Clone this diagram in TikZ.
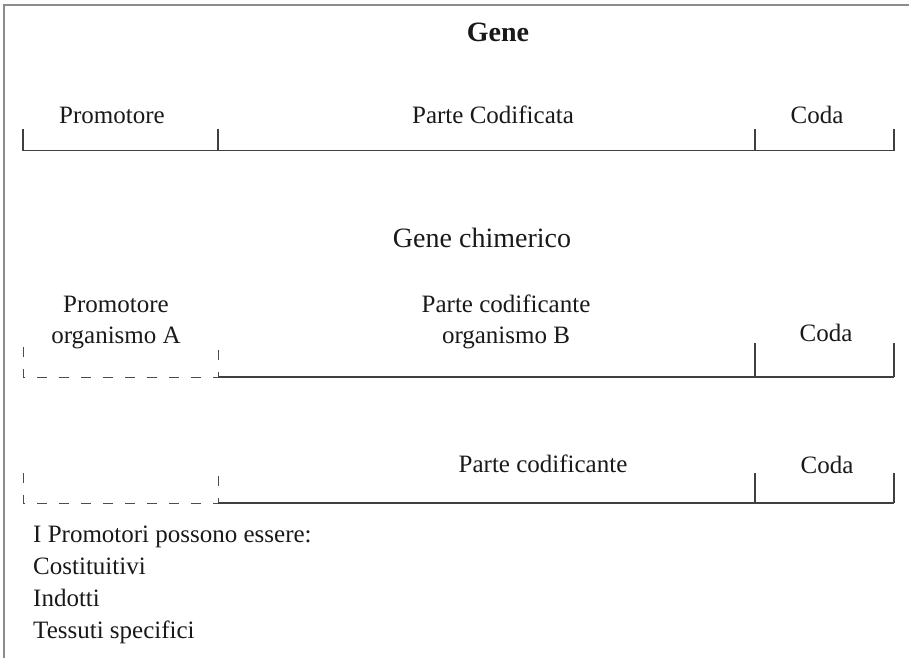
\documentclass[tikz,border=0pt]{standalone}
\usepackage{fontspec}
\setmainfont{Liberation Serif}

\begin{document}
\begin{tikzpicture}[x=1pt, y=-1pt]
	%define styles
	\tikzset{
		frame/.style={draw=black!45, line width=2pt},
		segment/.style={draw=black!75, line width=1.3pt},
		missing/.style={draw=black!70, line width=1pt, dash pattern=on 10pt off 12pt},
		label/.style={font=\fontsize{25}{31}\selectfont, text=black!90, anchor=base, inner sep=0pt, align=center},
		title/.style={label, font=\fontsize{28}{34}\selectfont},
	}
	\useasboundingbox (0,0) rectangle (909,658);
	%frame
	\draw[frame] (4,658) -- (4,5) -- (909,5);
	%define points
	\coordinate (a0) at (23,150.5);
	\coordinate (a1) at (218,150.5);
	\coordinate (a2) at (755,150.5);
	\coordinate (a3) at (894,150.5);
	\coordinate (b0) at (23,377);
	\coordinate (b1) at (218,377);
	\coordinate (b2) at (755,377);
	\coordinate (b3) at (894,377);
	\coordinate (c0) at (23,503);
	\coordinate (c1) at (218,503);
	\coordinate (c2) at (755,503);
	\coordinate (c3) at (894,503);
	%define nodes
	\node[title, font=\fontsize{28}{34}\selectfont\bfseries] (gene) at (498,42) {Gene};
	\node[label] (prom) at (112,123) {Promotore};
	\node[label] (cod) at (493,123) {Parte Codificata};
	\node[label] (coda) at (817,123) {Coda};
	\node[title] (chim) at (482,247) {Gene chimerico};
	\node[label] (promA) at (116,343) {Promotore\\organismo A};
	\node[label] (codB) at (506,343) {Parte codificante\\organismo B};
	\node[label] (codaB) at (826,341) {Coda};
	\node[label] (codC) at (543,472) {Parte codificante};
	\node[label] (codaC) at (827,473) {Coda};
	\node[label, anchor=base west, align=left, font=\fontsize{25}{32}\selectfont] (note) at (33,638)
		{I Promotori possono essere:\\Costituitivi\\Indotti\\Tessuti specifici};
	%define lines
	\draw[segment] (a0) -- (a3);
	\draw[segment] (a0) -- ([yshift=22pt]a0);
	\draw[segment] (a1) -- ([yshift=22pt]a1);
	\draw[segment] (a2) -- ([yshift=22pt]a2);
	\draw[segment] (a3) -- ([yshift=22pt]a3);
	\draw[missing] ([yshift=30pt]b0) -- (b0) -- (b1) -- ([yshift=30pt]b1);
	\draw[segment] (b1) -- (b3);
	\draw[segment] (b2) -- ([yshift=34pt]b2);
	\draw[segment] (b3) -- ([yshift=34pt]b3);
	\draw[missing] ([yshift=30pt]c0) -- (c0) -- (c1) -- ([yshift=30pt]c1);
	\draw[segment] (c1) -- (c3);
	\draw[segment] (c2) -- ([yshift=30pt]c2);
	\draw[segment] (c3) -- ([yshift=30pt]c3);
\end{tikzpicture}
\end{document}
